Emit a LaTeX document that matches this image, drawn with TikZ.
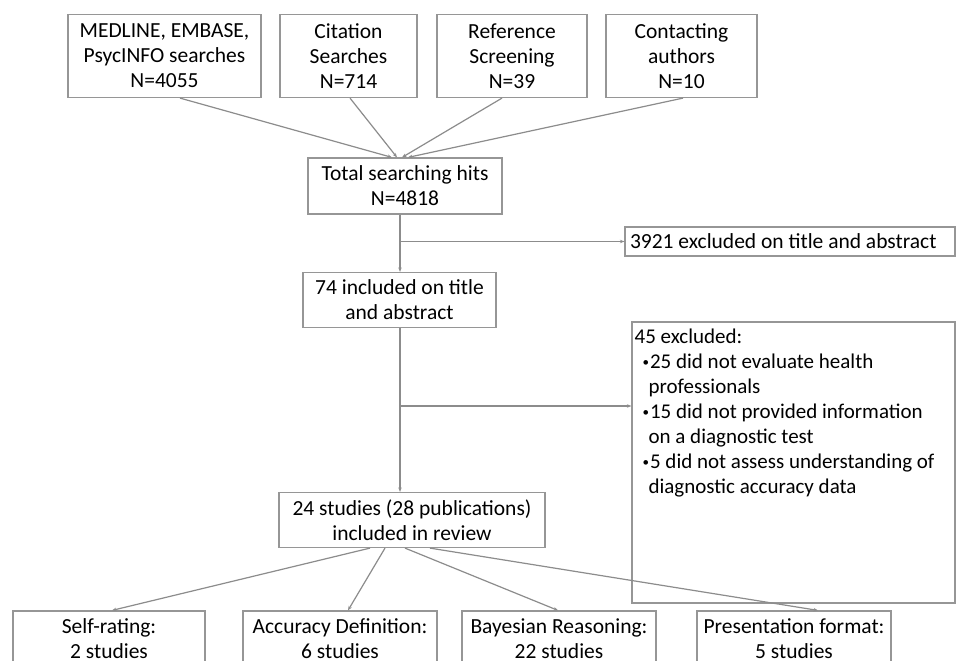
\documentclass[tikz,border=0pt]{standalone}
\usepackage{fontspec}
\usepackage{graphicx}
\setmainfont{Carlito}
\usetikzlibrary{arrows.meta,calc}
\definecolor{boxgray}{RGB}{150,150,150}
\definecolor{linegray}{RGB}{140,140,140}
\newcommand{\smbul}{\raisebox{1.8pt}{\scalebox{0.62}{•}}\hspace{1pt}}
\begin{document}
\begin{tikzpicture}[x=1pt,y=-1pt,
  box/.style={draw=boxgray, line width=1.2pt, inner sep=0pt, align=center,
    font=\fontsize{21.5}{25}\selectfont, text=black},
  conn/.style={draw=linegray, line width=1.2pt, -{Stealth[length=4.5pt,width=3.5pt]}}]
\clip (0,0) rectangle (962,661);
\fill[white] (0,0) rectangle (962,661);
% top row
\node[box, minimum width=193pt, minimum height=83pt] (A) at (164.5,56) {MEDLINE, EMBASE,\\PsycINFO searches\\N=4055};
\node[box, minimum width=137pt, minimum height=83pt] (B) at (348.5,56) {Citation\\Searches\\N=714};
\node[box, minimum width=150pt, minimum height=83pt] (C) at (512,56) {Reference\\Screening\\N=39};
\node[box, minimum width=151pt, minimum height=83pt] (D) at (681.5,56) {Contacting\\authors\\N=10};
% middle
\node[box, minimum width=194pt, minimum height=56pt] (T) at (405,186) {Total searching hits\\N=4818};
\node[box, minimum width=330pt, minimum height=29pt] (X1) at (790,241.5) {\makebox[320pt][l]{3921 excluded on title and abstract}};
\node[box, minimum width=193pt, minimum height=55pt] (I) at (399.5,300) {74 included on title\\and abstract};
\node[box, minimum width=323pt, minimum height=281pt] (X2) at (793.5,462.5) {};
\node[anchor=north west, align=left, inner sep=0pt, font=\fontsize{21}{25}\selectfont]
  (X2t) at ([xshift=3pt,yshift=-7pt]X2.north west)
  {45 excluded:\\
   \hspace*{8pt}\smbul 25 did not evaluate health\\
   \hspace*{14pt}professionals\\
   \hspace*{8pt}\smbul 15 did not provided information\\
   \hspace*{14pt}on a diagnostic test\\
   \hspace*{8pt}\smbul 5 did not assess understanding of\\
   \hspace*{14pt}diagnostic accuracy data};
\node[box, minimum width=266pt, minimum height=55pt] (R) at (412,520) {24 studies (28 publications)\\included in review};
% bottom row
\node[box, minimum width=192pt, minimum height=56pt] (S1) at (109,639) {Self-rating:\\2 studies};
\node[box, minimum width=194pt, minimum height=56pt] (S2) at (340,639) {Accuracy Definition:\\6 studies};
\node[box, minimum width=194pt, minimum height=56pt] (S3) at (559,639) {Bayesian Reasoning:\\22 studies};
\node[box, minimum width=194pt, minimum height=56pt] (S4) at (794,639) {Presentation format:\\5 studies};
% connectors top
\draw[conn] ([xshift=15.5pt]A.south) -- ([xshift=-13pt]T.north);
\draw[conn] ([xshift=1.5pt]B.south) -- ([xshift=-8pt]T.north);
\draw[conn] ([xshift=-10pt]C.south) -- ([xshift=-3pt]T.north);
\draw[conn] ([xshift=1.5pt]D.south) -- ([xshift=3pt]T.north);
% vertical flow
\draw[conn] ([xshift=-5pt]T.south) -- ([xshift=0.5pt]I.north);
\draw[conn] ([xshift=0.5pt]I.south) -- ([xshift=-12pt]R.north);
\coordinate (b1) at (400,241.5);
\coordinate (b2) at (400,406);
\draw[conn] (b1) -- (X1.west);
\draw[conn] (b2) -- (b2 -| X2.west);
% bottom connectors
\draw[conn] ([xshift=-42pt]R.south) -- ([xshift=3pt]S1.north);
\draw[conn] ([xshift=-27pt]R.south) -- ([xshift=8pt]S2.north);
\draw[conn] ([xshift=-7pt]R.south) -- ([xshift=-1pt]S3.north);
\draw[conn] ([xshift=18pt]R.south) -- ([xshift=24pt]S4.north);
\end{tikzpicture}
\end{document}
